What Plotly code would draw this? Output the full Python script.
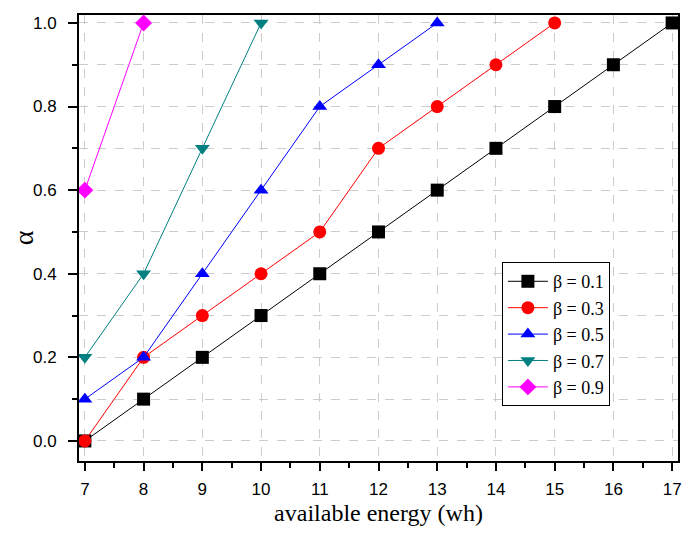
import plotly.graph_objects as go

x_01 = [7, 8, 9, 10, 11, 12, 13, 14, 15, 16, 17]
y_01 = [0.0, 0.1, 0.2, 0.3, 0.4, 0.5, 0.6, 0.7, 0.8, 0.9, 1.0]
x_03 = [7, 8, 9, 10, 11, 12, 13, 14, 15]
y_03 = [0.0, 0.2, 0.3, 0.4, 0.5, 0.7, 0.8, 0.9, 1.0]
x_05 = [7, 8, 9, 10, 11, 12, 13]
y_05 = [0.1, 0.2, 0.4, 0.6, 0.8, 0.9, 1.0]
x_07 = [7, 8, 9, 10]
y_07 = [0.2, 0.4, 0.7, 1.0]
x_09 = [7, 8]
y_09 = [0.6, 1.0]

series = [
    ("β = 0.1", x_01, y_01, "black", "square"),
    ("β = 0.3", x_03, y_03, "red", "circle"),
    ("β = 0.5", x_05, y_05, "blue", "triangle-up"),
    ("β = 0.7", x_07, y_07, "#008080", "triangle-down"),
    ("β = 0.9", x_09, y_09, "magenta", "diamond"),
]

fig = go.Figure()
for name, xs, ys, col, sym in series:
    fig.add_trace(go.Scatter(
        x=xs, y=ys, name=name, mode="lines+markers",
        line=dict(color=col, width=1),
        marker=dict(color=col, symbol=sym, size=13),
    ))

tickfont = dict(family="Liberation Sans, Arial", size=17, color="black")
titlefont = dict(family="Liberation Serif, Times New Roman", size=24, color="black")

fig.update_layout(
    width=695, height=536,
    margin=dict(l=71, r=25, t=7, b=83),
    plot_bgcolor="white", paper_bgcolor="white",
    showlegend=True,
    legend=dict(
        x=0.706, y=0.446, xanchor="left", yanchor="top",
        bgcolor="white", bordercolor="black", borderwidth=1,
        font=dict(family="Liberation Serif, Times New Roman", size=18, color="black"),
        tracegroupgap=0, itemwidth=40,
    ),
)
fig.update_xaxes(
    range=[6.9, 17.1], tickmode="linear", tick0=7, dtick=1, automargin=False,
    showline=True, linewidth=2, linecolor="black", mirror=True,
    ticks="outside", ticklen=8, tickwidth=2, tickcolor="black",
    showgrid=True, gridcolor="#cccccc", griddash="dash", gridwidth=1,
    zeroline=False, tickfont=tickfont, ticklabelstandoff=4,
    minor=dict(dtick=0.5, tick0=7, ticks="outside", ticklen=5, tickwidth=2, tickcolor="black", showgrid=False),
    title=dict(text="available energy (wh)", font=titlefont, standoff=6),
)
fig.update_yaxes(
    range=[-0.048, 1.019], tickmode="linear", tick0=0, dtick=0.2, tickformat=".1f", automargin=False,
    showline=True, linewidth=2, linecolor="black", mirror=True,
    ticks="outside", ticklen=9, tickwidth=2, tickcolor="black",
    showgrid=True, gridcolor="#cccccc", griddash="dash", gridwidth=1,
    zeroline=False, tickfont=tickfont, ticklabelstandoff=8,
    minor=dict(dtick=0.1, tick0=0, ticks="outside", ticklen=5, tickwidth=2, tickcolor="black",
               showgrid=True, gridcolor="#cccccc", griddash="dash", gridwidth=1),
    title=dict(text="α", font=dict(family="Liberation Serif, Times New Roman", size=28, color="black"), standoff=18),
)

fig.write_html("out.html")
